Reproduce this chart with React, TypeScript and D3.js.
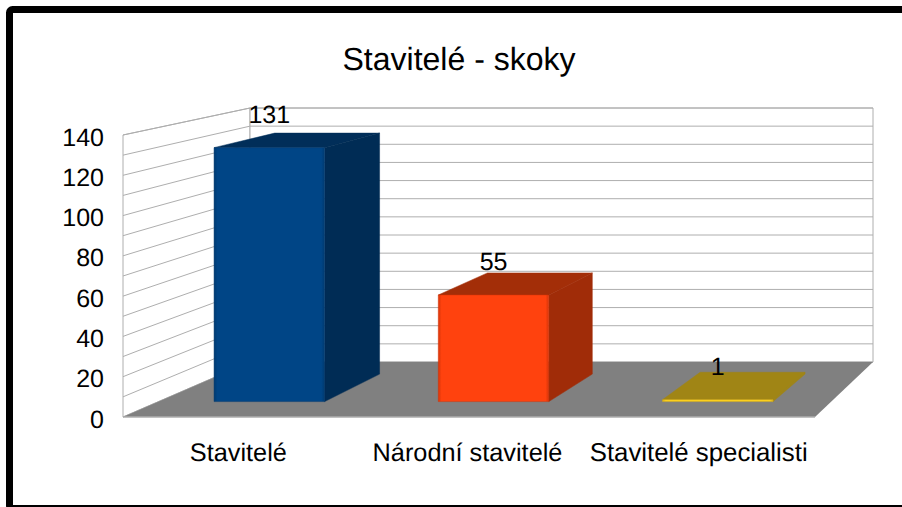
import React from "react";
import * as d3 from "d3";

const categories = ["Stavitelé", "Národní stavitelé", "Stavitelé specialisti"];
const values = [131, 55, 1];
const valueTicks = [0, 20, 40, 60, 80, 100, 120, 140];
const gridValues = d3.range(0, 141, 10);
const frontColors = ["#004586", "#ff420e", "#ffd320"];
const edgeColors = ["#003a70", "#d63408", "#d8b018"];
const sideColors = ["#002c55", "#a02c08", "#a08515"];
const topColors = ["#012e59", "#a32e08", "#a08515"];

const FONT = "'Liberation Sans', Arial, sans-serif";
const GRID = "#aeaeae";

// oblique projection of the 3D box: fx across, v up, d into the page
const leftAt = d3.scaleLinear().domain([0, 1]).range([123, 250]);
const rightAt = d3.scaleLinear().domain([0, 1]).range([815, 873]);
const baseAt = d3.scaleLinear().domain([0, 1]).range([417, 362]);
const heightAt = d3.scaleLinear().domain([0, 1]).range([282, 254]);
const yValue = d3.scaleLinear().domain([0, 140]).range([0, 1]);
const band = d3.scaleBand<number>().domain([0, 1, 2]).range([0, 1]).paddingInner(0).paddingOuter(0);

function project(fx: number, v: number, d: number): [number, number] {
  const x = d3.scaleLinear().domain([0, 1]).range([leftAt(d), rightAt(d)])(fx);
  const y = baseAt(d) - heightAt(d) * yValue(v);
  return [x, y];
}
const poly = (pts: [number, number][]) => d3.line()(pts)! + "Z";

const D0 = 0.28;
const D1 = 0.78;
const BAR = 0.493;
const BAR_V = 0.99;
const BAR_SHIFT = -0.002;

export default function App() {
  const W = 902;
  const H = 507;
  const bw = band.bandwidth();
  const textProps = { fontFamily: FONT, fill: "#000", textRendering: "geometricPrecision" as const };
  return (
    <svg width={W} height={H} viewBox={`0 0 ${W} ${H}`}
      style={{ position: "absolute", left: 0, top: 0, background: "#fff" }}>
      <defs>
        {frontColors.map((c, i) => (
          <linearGradient key={i} id={`front${i}`} x1="0" x2="1" y1="0" y2="0">
            <stop offset="0" stopColor={edgeColors[i]} />
            <stop offset="0.03" stopColor={c} />
            <stop offset="0.97" stopColor={c} />
            <stop offset="1" stopColor={edgeColors[i]} />
          </linearGradient>
        ))}
      </defs>
      <rect x={9.5} y={9.5} width={W} height={H - 8} rx={3} fill="#fff" stroke="#000" strokeWidth={7} />

      {/* walls */}
      <path d={poly([project(0, 0, 0), project(0, 140, 0), project(0, 140, 1), project(0, 0, 1)])}
        fill="#fff" stroke={GRID} strokeWidth={1} />
      <path d={poly([project(0, 0, 1), project(0, 140, 1), project(1, 140, 1), project(1, 0, 1)])}
        fill="#fff" stroke={GRID} strokeWidth={1} />
      {gridValues.map((v) => (
        <path key={v} fill="none" stroke={GRID} strokeWidth={1}
          d={d3.line()([project(0, v, 0), project(0, v, 1), project(1, v, 1)])!} />
      ))}
      {/* floor */}
      <path d={poly([project(0, 0, 0), project(0, 0, 1), project(1, 0, 1), project(1, 0, 0)])} fill="#808080" />
      <path d={d3.line()([project(0, 0, 0), project(1, 0, 0)])!} stroke={GRID} strokeWidth={1.5} fill="none" />

      {/* bars */}
      {values.map((raw, i) => {
        const v = raw * BAR_V;
        const c = band(i)! + bw / 2 + BAR_SHIFT;
        const a = c - (bw * BAR) / 2;
        const b = c + (bw * BAR) / 2;
        const f = project;
        return (
          <g key={i} strokeLinejoin="round">
            <path d={poly([f(a, v, D0), f(a, v, D1), f(b, v, D1), f(b, v, D0)])}
              fill={topColors[i]} stroke={topColors[i]} strokeWidth={0.5} />
            <path d={poly([f(b, 0, D0), f(b, v, D0), f(b, v, D1), f(b, 0, D1)])}
              fill={sideColors[i]} stroke={sideColors[i]} strokeWidth={0.5} />
            <path d={poly([f(a, 0, D0), f(a, v, D0), f(b, v, D0), f(b, 0, D0)])}
              fill={`url(#front${i})`} stroke={edgeColors[i]} strokeWidth={0.5} />
          </g>
        );
      })}

      {/* value labels */}
      {values.map((v, i) => {
        const c = band(i)! + bw / 2 + BAR_SHIFT;
        const [x, y] = project(c, v * BAR_V, D0);
        return (
          <text key={i} x={x} y={y - 25} textAnchor="middle" fontSize={25} {...textProps}>{v}</text>
        );
      })}

      {/* value axis */}
      {valueTicks.map((t) => (
        <text key={t} x={104} y={project(0, t, 0)[1] + 10.5} textAnchor="end" fontSize={25} {...textProps}>{t}</text>
      ))}
      {/* category axis */}
      {categories.map((c, i) => (
        <text key={c} x={project(band(i)! + bw / 2, 0, 0)[0] - (i === 1 ? 1.5 : i === 2 ? 1 : 0)} y={461}
          textAnchor="middle" fontSize={i === 2 ? 25.8 : 25.3} {...textProps}>{c}</text>
      ))}
      <text x={459} y={70} textAnchor="middle" fontSize={32} {...textProps}>Stavitelé - skoky</text>
    </svg>
  );
}
